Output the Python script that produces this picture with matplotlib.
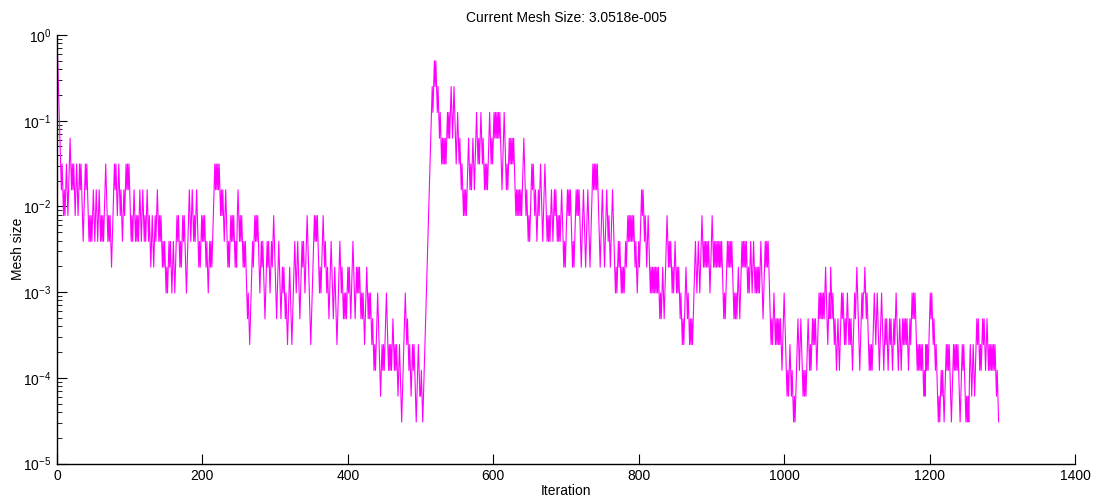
import numpy as np
import matplotlib
matplotlib.use("Agg")
import matplotlib.pyplot as plt
from matplotlib.ticker import LogLocator, NullFormatter, FixedLocator

# Mesh size per iteration, written as the power-of-two exponent k (mesh = 2**-k),
# one hex digit per iteration, ten iterations per chunk.
mesh_exponent_chunks = [
    "0123456567", "6765676545", "6565676567", "6565678765", "6567878787",
    "6787678767", "8787876567", "8787898765", "6567656767", "8767656565",
    "6787876787", "8787678767", "8787678789", "8789878767", "8787898989",
    "a9a98989a9", "89a9878789", "89878789a9", "8767876787", "8767898987",
    "87878989a9", "8989876565", "6565676767", "8767898987", "8787898976",
    "7878789898", "9ababcba98", "987878789a", "98989aba98", "989a989878",
    "9aba989aba", "9a9ababcba", "9abcba989a", "989aba9898", "9a98789abc",
    "ba98787878", "9a9a987898", "9a9aba989a", "ba9abcba98", "9a9abababa",
    "9a9aba989a", "ba9a9a9aba", "babcba9aba", "babcbcdcdc", "babcdedcdc",
    "dcbabcdcdc", "dcbcdcdcde", "dcdefedcba", "bcbcdcdedc", "dcdefedcde",
    "edefedcba9", "8765432321", "2123234345", "4545454343", "4323432345",
    "4345456567", "6767654565", "6545654345", "4543454565", "6565434545",
    "4343434343", "4565434565", "6545454545", "6767676767", "6545676787",
    "8765656767", "8767656787", "6567878787", "6787676787", "8787678989",
    "8767676789", "8987676767", "8987678987", "6789876565", "6565678987",
    "6789876787", "89876789a9", "a98989a9a9", "a989878787", "87878989a9",
    "8987676787", "898789a9a9", "a9a9a9a9ab", "aba9aba987", "898989a9a9",
    "89a9a9abab", "cbcba9abab", "cbcbcba989", "a989a98789", "89898989a9",
    "8789898989", "898989abab", "a989898989", "abababa9ab", "a989898989",
    "a9a989a989", "a9a9a9a989", "aba9898989", "abcbcbabcb", "cbcbcbcdcb",
    "abcdededcd", "edefefedcb", "cdcbcdeded", "edcbcdcdcb", "cbcbcdcbab",
    "abababa9ab", "cbab9ababc", "bcdcbcdcba", "babcbcbabc", "bcbcdcbaba",
    "9abcdcbaba", "a9ababcdcd", "cdcbabcbab", "cdcbabcdcb", "cbcdcbcbcd",
    "cbcbabcdcb", "cdcbcbcbcb", "cdcbcbabab", "abcdcdcdcd", "cdedecdcdc",
    "bababcbcdc", "defefedede", "fedcdcdcde", "fedcdcdcdc", "defedcdcde",
    "fefefdcded", "cdedcbcbcd", "cdcbcbcdcb", "cdcdcdcdcd", "cdedef",
]

title_text = "Current Mesh Size: 3.0518e-005"
x_label = "Iteration"
y_label = "Mesh size"
x_ticks = [0, 200, 400, 600, 800, 1000, 1200, 1400]

exponents = np.array([int(c, 16) for c in "".join(mesh_exponent_chunks)])
mesh_size = 2.0 ** (-exponents)
iteration = np.arange(len(mesh_size))

font = ["Liberation Sans Narrow", "Liberation Sans", "DejaVu Sans"]
plt.rcParams["font.family"] = font
plt.rcParams["mathtext.fontset"] = "custom"
plt.rcParams["mathtext.rm"] = "Liberation Sans"
plt.rcParams["mathtext.default"] = "regular"

fig = plt.figure(figsize=(10.98, 4.98), dpi=100, facecolor="white")
ax = fig.add_axes([57 / 1098, 1 - 463.5 / 498, (1075 - 57) / 1098, (463.5 - 35) / 498])

ax.plot(iteration, mesh_size, color="#ff00ff", linewidth=0.8)

ax.set_yscale("log")
ax.set_xlim(0, 1400)
ax.set_ylim(1e-5, 1)
ax.xaxis.set_major_locator(FixedLocator(x_ticks))
ax.yaxis.set_major_locator(LogLocator(base=10, numticks=10))
ax.yaxis.set_minor_locator(LogLocator(base=10, subs=np.arange(2, 10), numticks=10))
ax.yaxis.set_minor_formatter(NullFormatter())

for side in ("top", "right"):
    ax.spines[side].set_visible(False)
for side in ("left", "bottom"):
    ax.spines[side].set_linewidth(1.0)
    ax.spines[side].set_color("black")

ax.tick_params(axis="both", which="major", direction="in", length=7, width=0.8,
               labelsize=10, colors="black", pad=4)
ax.tick_params(axis="y", which="minor", direction="in", length=3.5, width=0.6)

ax.set_title(title_text, fontsize=10, pad=9)
ax.set_xlabel(x_label, fontsize=10, labelpad=1)
ax.set_ylabel(y_label, fontsize=10, labelpad=-1)

fig.savefig("out.png", dpi=100, facecolor="white")
